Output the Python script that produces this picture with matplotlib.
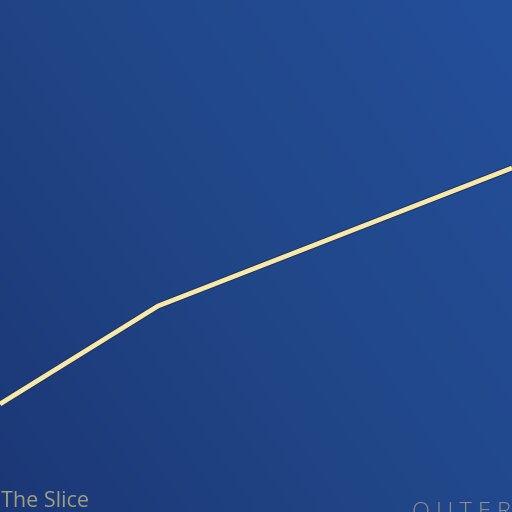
import numpy as np
import matplotlib
matplotlib.use("Agg")
import matplotlib.pyplot as plt
import matplotlib.patheffects as pe
from matplotlib.colors import LinearSegmentedColormap

# data
x_vals = [0.0, 1.0, 3.24]
y_vals = [108, 206, 344]
brand_left = "The Slice"
brand_right = "OUTER"

fig = plt.figure(figsize=(5.12, 5.12), dpi=100)
ax = fig.add_axes([0, 0, 1, 1])
ax.set_xlim(0, 3.24)
ax.set_ylim(0, 512)
ax.axis("off")

# background gradient (bottom-left dark -> top-right lighter)
cmap = LinearSegmentedColormap.from_list("bg", ["#1c3776", "#214789", "#244f9b"])
gx, gy = np.meshgrid(np.linspace(0, 1, 256), np.linspace(0, 1, 256))
grad = 0.6 * gx + 0.4 * gy
ax.imshow(grad, extent=[0, 3.24, 0, 512], origin="lower", cmap=cmap,
          aspect="auto", zorder=0, interpolation="bicubic")

ax.plot(x_vals, y_vals, color="#f3e8b8", lw=3.4, solid_joinstyle="round",
        solid_capstyle="butt", zorder=3,
        path_effects=[pe.Stroke(linewidth=4.8, foreground="#2a3340"), pe.Normal()])

fig.text(1 / 512, 5 / 512, brand_left, color="#9e9d86", fontsize=15.5,
         family=["Open Sans", "DejaVu Sans"], ha="left", va="baseline")
fig.text(412 / 512, -7 / 512, " ".join(brand_right), color="#8e8f92", fontsize=17,
         family=["Open Sans", "DejaVu Sans"], fontweight="light",
         ha="left", va="baseline")

fig.savefig("out.png", dpi=100)
